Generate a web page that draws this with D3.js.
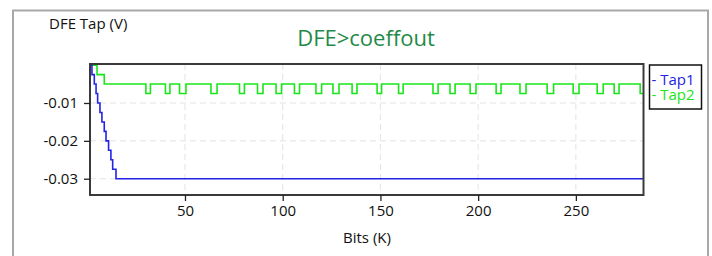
<!DOCTYPE html>
<html>
<head>
<meta charset="utf-8">
<script src="https://cdn.jsdelivr.net/npm/d3@7"></script>
<style>
  body { margin: 0; background: #fff; }
  svg { display: block; font-family: "Open Sans", "Noto Sans", sans-serif; }
</style>
</head>
<body>
<div id="chart"></div>
<script>
// values
const xTicks = [50, 100, 150, 200, 250];
const yTicks = [-0.01, -0.02, -0.03];
const xDomain = [1.4, 284.6];
const yDomain = [-0.0343, 0.0003];

// Tap1: staircase down to -0.03
const tap1X = [1.4, 2.4, 3.6, 4.5, 5.3, 6.5, 7.5, 8.7, 9.6, 10.9, 12.1, 13.0, 14.7, 284.6];
const tap1Y = [0, -0.0025, -0.005, -0.0075, -0.01, -0.0125, -0.015, -0.0175, -0.02, -0.0225, -0.025, -0.0275, -0.03, -0.03];

// Tap2: settles at -0.005 with dips to -0.0075
const tap2X = [1.4, 5.0, 8.7,
  30.0, 32.3, 40.0, 42.3, 47.2, 50.5, 63.3, 66.4, 77.9, 80.4, 87.1, 89.9,
  96.6, 99.4, 106.0, 108.6, 117.0, 119.9, 125.7, 128.8, 135.5, 138.0,
  148.3, 150.6, 159.3, 161.6, 176.9, 179.5, 185.6, 188.2, 195.9, 198.9,
  209.2, 211.7, 221.4, 224.5, 235.3, 238.6, 248.6, 251.6, 260.9, 264.0,
  269.6, 272.1, 282.9, 284.6];
const tap2Y = [0, -0.0025, -0.005,
  -0.0075, -0.005, -0.0075, -0.005, -0.0075, -0.005, -0.0075, -0.005, -0.0075, -0.005, -0.0075, -0.005,
  -0.0075, -0.005, -0.0075, -0.005, -0.0075, -0.005, -0.0075, -0.005, -0.0075, -0.005,
  -0.0075, -0.005, -0.0075, -0.005, -0.0075, -0.005, -0.0075, -0.005, -0.0075, -0.005,
  -0.0075, -0.005, -0.0075, -0.005, -0.0075, -0.005, -0.0075, -0.005, -0.0075, -0.005,
  -0.0075, -0.005, -0.0075, -0.0075];

const seriesNames = ["Tap1", "Tap2"];
const seriesColors = ["#2323e6", "#19e619"];

const width = 712, height = 256;
const margin = {top: 64, right: 68.5, bottom: 61, left: 90};
const plotW = width - margin.left - margin.right;
const plotH = height - margin.top - margin.bottom;

const svg = d3.select("#chart").append("svg")
    .attr("width", width)
    .attr("height", height);

// window frame
svg.append("path")
    .attr("d", "M13,256 V10.5 H708 V256")
    .style("fill", "none")
    .style("stroke", "#a8a8a8")
    .style("stroke-width", 2);

const x = d3.scaleLinear().domain(xDomain).range([0, plotW]);
const y = d3.scaleLinear().domain(yDomain).range([plotH, 0]);

const g = svg.append("g")
    .attr("transform", "translate(" + margin.left + "," + margin.top + ")");

// grid
g.append("g").selectAll("line").data(xTicks).enter().append("line")
    .attr("x1", d => x(d)).attr("x2", d => x(d))
    .attr("y1", 0).attr("y2", plotH)
    .style("stroke", "#e3e3e3").style("stroke-dasharray", "6,4");
g.append("g").selectAll("line").data(yTicks).enter().append("line")
    .attr("x1", 0).attr("x2", plotW)
    .attr("y1", d => y(d)).attr("y2", d => y(d))
    .style("stroke", "#e3e3e3").style("stroke-dasharray", "6,4");

// series
const lineGen = d3.line().curve(d3.curveStepAfter)
    .x(d => x(d[0])).y(d => y(d[1]));
const series = [d3.zip(tap1X, tap1Y), d3.zip(tap2X, tap2Y)];
[1, 0].forEach(i => {
    g.append("path")
        .datum(series[i])
        .attr("d", lineGen)
        .style("fill", "none")
        .style("stroke", seriesColors[i])
        .style("stroke-width", 1.6);
});

// frame
g.append("rect")
    .attr("width", plotW).attr("height", plotH)
    .style("fill", "none")
    .style("stroke", "#3a3a3a")
    .style("stroke-width", 2);

// axes
const xAxis = d3.axisBottom(x).tickValues(xTicks).tickSize(6).tickSizeOuter(0).tickPadding(4);
const yAxis = d3.axisLeft(y).tickValues(yTicks).tickSize(6).tickSizeOuter(0).tickPadding(6)
    .tickFormat(d3.format(".2f"));

const gx = g.append("g").attr("transform", "translate(0," + plotH + ")").call(xAxis);
const gy = g.append("g").call(yAxis);
[gx, gy].forEach(a => {
    a.select(".domain").remove();
    a.selectAll("line").style("stroke", "#222").style("stroke-width", 1.3);
    a.selectAll("text").style("font-size", "15px").style("fill", "#111")
        .style("font-family", "'Open Sans', 'Noto Sans', sans-serif");
});
gy.selectAll("text").text(d => d3.format(".2f")(d).replace("−", "-"));

// titles
svg.append("text")
    .attr("x", 366).attr("y", 46)
    .attr("text-anchor", "middle")
    .style("font-size", "22px")
    .style("fill", "#1f8a48")
    .text("DFE>coeffout");

svg.append("text")
    .attr("x", 49).attr("y", 29)
    .style("font-size", "15px")
    .style("fill", "#111")
    .text("DFE Tap (V)");

svg.append("text")
    .attr("x", 367).attr("y", 243)
    .attr("text-anchor", "middle")
    .style("font-size", "15px")
    .style("fill", "#111")
    .text("Bits (K)");

// legend
const legend = svg.append("g").attr("transform", "translate(649.5,65)");
legend.append("rect")
    .attr("width", 52).attr("height", 44)
    .style("fill", "#fff")
    .style("stroke", "#111")
    .style("stroke-width", 1.5);
legend.selectAll("text").data(seriesNames).enter().append("text")
    .attr("x", 2)
    .attr("y", (d, i) => 20 + i * 15)
    .style("font-size", "15px")
    .style("fill", (d, i) => seriesColors[i])
    .text(d => "- " + d);
</script>
</body>
</html>
